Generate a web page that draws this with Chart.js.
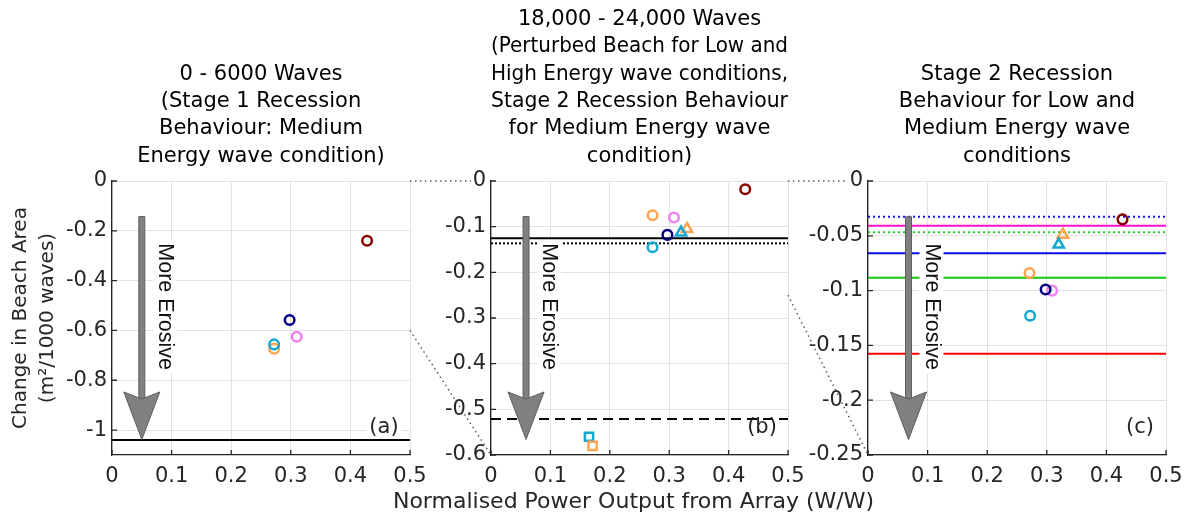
<!DOCTYPE html>
<html>
<head>
<meta charset="utf-8">
<script src="https://cdn.jsdelivr.net/npm/chart.js@4.4.0/dist/chart.umd.min.js"></script>
<style>
    html, body { margin: 0; padding: 0; background: #fff; }
    #wrap { position: relative; width: 1192px; height: 519px; overflow: hidden; }
    #wrap canvas { position: absolute; left: 0; top: 0; }
</style>
</head>
<body>
<div id="wrap">
    <canvas id="chartA" width="1192" height="519"></canvas>
    <canvas id="chartB" width="1192" height="519"></canvas>
    <canvas id="chartC" width="1192" height="519"></canvas>
    <canvas id="links" width="1192" height="519"></canvas>
</div>
<script>
// ---- data ----
const xTicks = [0, 0.1, 0.2, 0.3, 0.4, 0.5];
const xRange = [0, 0.5];

const yTicksA = [0, -0.2, -0.4, -0.6, -0.8, -1];
const yRangeA = [-1.1, 0];
const yTicksB = [0, -0.1, -0.2, -0.3, -0.4, -0.5, -0.6];
const yRangeB = [-0.6, 0];
const yTicksC = [0, -0.05, -0.1, -0.15, -0.2, -0.25];
const yRangeC = [-0.25, 0];

// circles: dark red, orange, pink, cyan, navy
const circleAx = [0.428, 0.272, 0.310, 0.272, 0.298];
const circleAy = [-0.240, -0.673, -0.625, -0.656, -0.558];
const circleBx = [0.428, 0.272, 0.308, 0.272, 0.297];
const circleBy = [-0.018, -0.075, -0.080, -0.145, -0.118];
const circleCx = [0.427, 0.271, 0.309, 0.272, 0.298];
const circleCy = [-0.035, -0.084, -0.100, -0.123, -0.099];

// triangles: orange, cyan
const triBx = [0.330, 0.320];
const triBy = [-0.105, -0.113];
const triCx = [0.327, 0.320];
const triCy = [-0.049, -0.058];

// squares: cyan, orange
const sqBx = [0.165, 0.171];
const sqBy = [-0.560, -0.580];

// horizontal reference lines
const refA = [-1.04];
const refB = [-0.1255, -0.1365, -0.521];
const refC = [-0.0326, -0.0408, -0.0468, -0.066, -0.0883, -0.1576];

// "More Erosive" arrows: x, shaft top, head base, tip
const arrowA = [0.05, -0.143, -0.847, -1.038];
const arrowB = [0.059, -0.078, -0.462, -0.566];
const arrowC = [0.068, -0.0326, -0.1925, -0.236];

// ---- styles ----
const FONT = "'DejaVu Sans', Verdana, sans-serif";
const W = 1192, H = 519;
const PLOT_TOP = 181, PLOT_BOTTOM = 455;
const TITLE_LH = 27.4;
const AXIS_COLOR = '#262626';

const circleColors = ['#8B0000', '#FFA552', '#EE82EE', '#13A8CF', '#000080'];
const triColors = ['#FFA552', '#13A8CF'];
const sqColors = ['#13A8CF', '#FFA552'];

const refStyleA = [{ color: '#000' }];
const refStyleB = [{ color: '#000' }, { color: '#000', dash: [2, 2] }, { color: '#000', dash: [10, 6] }];
const refStyleC = [
    { color: '#1010FF', dash: [2, 3] },
    { color: '#FF10D0' },
    { color: '#22CC22', dash: [2, 3] },
    { color: '#0A0AE6' },
    { color: '#10C810' },
    { color: '#FF0000' }
];

function pts(xs, ys) {
    return xs.map((x, i) => ({ x: x, y: ys[i] }));
}

function markerSet(xs, ys, colors, style, radius) {
    return {
        data: pts(xs, ys),
        pointStyle: style,
        pointRadius: radius,
        pointBorderWidth: 2.5,
        pointBorderColor: colors,
        pointBackgroundColor: 'rgba(0,0,0,0)',
        showLine: false,
        order: 0
    };
}

function refLines(values, styles) {
    return values.map((v, i) => ({
        data: [{ x: xRange[0], y: v }, { x: xRange[1], y: v }],
        showLine: true,
        borderColor: styles[i].color,
        borderWidth: 2,
        borderDash: styles[i].dash || [],
        pointRadius: 0,
        order: 1
    }));
}

// arrow, "More Erosive" label, panel letter and inward ticks
const decorPlugin = {
    id: 'decor',
    afterDatasetsDraw(chart, args, opts) {
        const ctx = chart.ctx;
        const xs = chart.scales.x, ys = chart.scales.y, area = chart.chartArea;
        ctx.save();

        // inward tick marks
        ctx.strokeStyle = AXIS_COLOR;
        ctx.lineWidth = 1.3;
        ctx.beginPath();
        xs.ticks.forEach(t => {
            const px = xs.getPixelForValue(t.value);
            ctx.moveTo(px, area.bottom);
            ctx.lineTo(px, area.bottom - 5);
        });
        ys.ticks.forEach(t => {
            const py = ys.getPixelForValue(t.value);
            ctx.moveTo(area.left, py);
            ctx.lineTo(area.left + 5, py);
        });
        ctx.stroke();

        // arrow
        const [ax, aTop, aHead, aTip] = opts.arrow;
        const px = xs.getPixelForValue(ax);
        const yTop = ys.getPixelForValue(aTop);
        const yHead = ys.getPixelForValue(aHead);
        const yTip = ys.getPixelForValue(aTip);
        ctx.fillStyle = '#808080';
        ctx.strokeStyle = '#5e5e5e';
        ctx.lineWidth = 1;
        ctx.beginPath();
        ctx.rect(px - 3, yTop, 6, yHead + 7 - yTop);
        ctx.fill();
        ctx.stroke();
        ctx.beginPath();
        ctx.moveTo(px - 18, yHead);
        ctx.lineTo(px, yHead + 7);
        ctx.lineTo(px + 18, yHead);
        ctx.lineTo(px, yTip);
        ctx.closePath();
        ctx.fill();
        ctx.stroke();

        // rotated label with white box
        ctx.save();
        ctx.font = "21.5px 'Liberation Sans', Arial, sans-serif";
        const label = 'More Erosive';
        const tw = ctx.measureText(label).width;
        ctx.translate(px + 23, yTop + 90);
        ctx.rotate(Math.PI / 2);
        ctx.fillStyle = '#fff';
        ctx.fillRect(-tw / 2 - 3, -12, tw + 6, 24);
        ctx.fillStyle = '#111';
        ctx.textAlign = 'center';
        ctx.textBaseline = 'middle';
        ctx.fillText(label, 0, 0);
        ctx.restore();

        // panel letter
        ctx.font = '21px ' + FONT;
        const lw = ctx.measureText(opts.letter).width;
        const lx = area.right - 26, ly = area.bottom - 27;
        ctx.fillStyle = '#fff';
        ctx.fillRect(lx - lw / 2 - 3, ly - 8, lw + 6, 19);
        ctx.fillStyle = AXIS_COLOR;
        ctx.textAlign = 'center';
        ctx.textBaseline = 'middle';
        ctx.fillText(opts.letter, lx, ly);

        // shared x-axis label, drawn at full width (not squeezed to the panel)
        if (opts.xLabel) {
            ctx.font = '22px ' + FONT;
            ctx.fillStyle = AXIS_COLOR;
            ctx.textAlign = 'center';
            ctx.textBaseline = 'middle';
            ctx.fillText(opts.xLabel, (area.left + area.right) / 2 - 6, H - 17);
        }

        ctx.restore();
    }
};

function makePanel(canvasId, p) {
    const titleH = p.title.length * TITLE_LH + 11;
    return new Chart(document.getElementById(canvasId), {
        type: 'scatter',
        data: { datasets: p.datasets },
        options: {
            responsive: false,
            animation: false,
            events: [],
            layout: {
                padding: { left: p.left - p.yAxisW, right: W - p.right, top: PLOT_TOP - titleH, bottom: 0 }
            },
            plugins: {
                legend: { display: false },
                tooltip: { enabled: false },
                title: {
                    display: true,
                    text: p.title,
                    fullSize: false,
                    color: '#000',
                    font: { family: FONT, size: 21, weight: 'normal', lineHeight: TITLE_LH + 'px' },
                    padding: { top: 0, bottom: 11 }
                },
                decor: { arrow: p.arrow, letter: p.letter, xLabel: p.xTitle || null }
            },
            scales: {
                x: {
                    type: 'linear',
                    min: xRange[0],
                    max: xRange[1],
                    afterFit: s => { s.height = H - PLOT_BOTTOM; },
                    afterBuildTicks: s => { s.ticks = xTicks.map(v => ({ value: v })); },
                    ticks: { color: AXIS_COLOR, font: { family: FONT, size: 21 }, padding: 9, maxRotation: 0, callback: v => String(v) },
                    grid: { color: '#e2e2e2', lineWidth: 1, drawTicks: false },
                    border: { color: AXIS_COLOR, width: 1.3 }
                },
                y: {
                    type: 'linear',
                    min: p.yRange[0],
                    max: p.yRange[1],
                    afterFit: s => { s.width = p.yAxisW; },
                    afterBuildTicks: s => { s.ticks = p.yTicks.map(v => ({ value: v })); },
                    ticks: { color: AXIS_COLOR, font: { family: FONT, size: 21 }, padding: 5, callback: v => String(v) },
                    grid: { color: '#e2e2e2', lineWidth: 1, drawTicks: false },
                    border: { color: AXIS_COLOR, width: 1.3 },
                    title: p.yTitle ? {
                        display: true,
                        text: p.yTitle,
                        color: AXIS_COLOR,
                        font: { family: FONT, size: 20, lineHeight: '27px' },
                        padding: { top: 7, bottom: 0 }
                    } : { display: false }
                }
            }
        },
        plugins: [decorPlugin]
    });
}

const chartA = makePanel('chartA', {
    left: 112, right: 410, yAxisW: 112,
    title: ['0 - 6000 Waves', '(Stage 1 Recession', 'Behaviour: Medium', 'Energy wave condition)'],
    yTicks: yTicksA, yRange: yRangeA,
    yTitle: ['Change in Beach Area', '(m\u00B2/1000 waves)'],
    arrow: arrowA, letter: '(a)',
    datasets: [
        markerSet(circleAx, circleAy, circleColors, 'circle', 4.8),
        ...refLines(refA, refStyleA)
    ]
});

const chartB = makePanel('chartB', {
    left: 491, right: 788, yAxisW: 60,
    title: ['18,000 - 24,000 Waves', '(Perturbed Beach for Low and', 'High Energy wave conditions,',
            'Stage 2 Recession Behaviour', 'for Medium Energy wave', 'condition)'],
    yTicks: yTicksB, yRange: yRangeB,
    xTitle: 'Normalised Power Output from Array (W/W)',
    arrow: arrowB, letter: '(b)',
    datasets: [
        markerSet(sqBx, sqBy, sqColors, 'rect', 5.8),
        markerSet(triBx, triBy, triColors, 'triangle', 6),
        markerSet(circleBx, circleBy, circleColors, 'circle', 4.8),
        ...refLines(refB, refStyleB)
    ]
});

const chartC = makePanel('chartC', {
    left: 868, right: 1166, yAxisW: 70,
    title: ['Stage 2 Recession', 'Behaviour for Low and', 'Medium Energy wave', 'conditions'],
    yTicks: yTicksC, yRange: yRangeC,
    arrow: arrowC, letter: '(c)',
    datasets: [
        markerSet(triCx, triCy, triColors, 'triangle', 6),
        markerSet(circleCx, circleCy, circleColors, 'circle', 4.8),
        ...refLines(refC, refStyleC)
    ]
});

// dotted zoom connectors between panels
function drawLink(ctx, from, to, range) {
    const x1 = from.scales.x.getPixelForValue(xRange[1]);
    const x2 = to.scales.x.getPixelForValue(xRange[0]);
    ctx.beginPath();
    ctx.moveTo(x1, from.scales.y.getPixelForValue(range[1]));
    ctx.lineTo(x2 - 20, to.scales.y.getPixelForValue(range[1]));
    ctx.moveTo(x1, from.scales.y.getPixelForValue(range[0]));
    ctx.lineTo(x2, to.scales.y.getPixelForValue(range[0]));
    ctx.stroke();
}

const lctx = document.getElementById('links').getContext('2d');
lctx.strokeStyle = '#5a5a5a';
lctx.lineWidth = 1.5;
lctx.setLineDash([1.5, 3.5]);
drawLink(lctx, chartA, chartB, yRangeB);
drawLink(lctx, chartB, chartC, yRangeC);
</script>
</body>
</html>
